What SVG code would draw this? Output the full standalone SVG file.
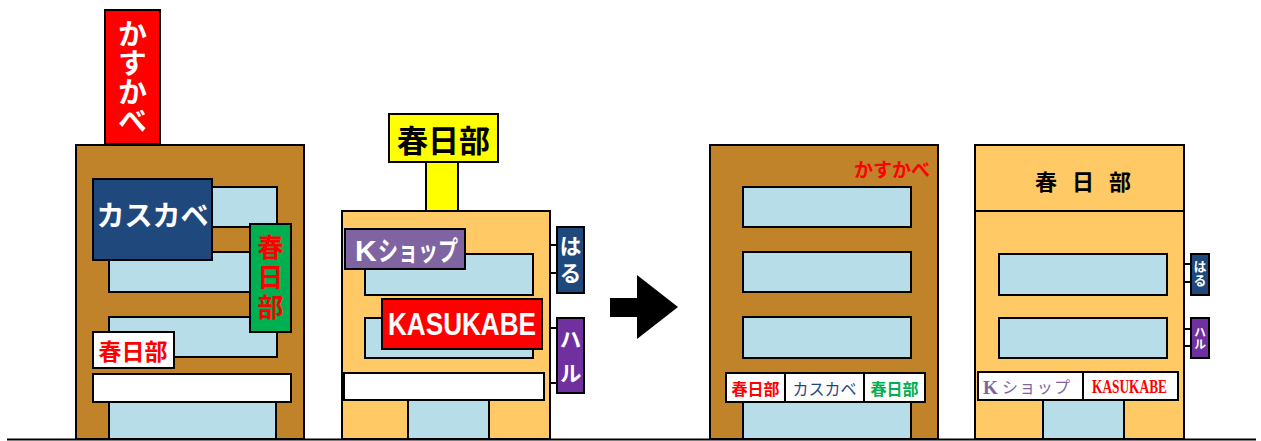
<svg xmlns="http://www.w3.org/2000/svg" width="1261" height="441" viewBox="0 0 1261 441">
  <style>
    .brown { fill: #C0832A; stroke: #000; stroke-width: 2; }
    .light { fill: #FFC965; stroke: #000; stroke-width: 2; }
    .win { fill: #B7DDE8; stroke: #000; stroke-width: 2; }
    .sign { stroke: #000; stroke-width: 2; }
    .wire { stroke: #000; stroke-width: 2; fill: none; }
    .jp { font-family: "Noto Sans CJK JP", "Noto Sans", sans-serif; font-weight: bold; text-anchor: middle; dominant-baseline: central; }
    .jpn { font-family: "Noto Sans CJK JP", "Noto Sans", sans-serif; font-weight: normal; text-anchor: middle; dominant-baseline: central; }
    .vert { font-family: "Noto Sans CJK JP", "Noto Sans", sans-serif; font-weight: bold; text-anchor: middle; writing-mode: vertical-rl; }
    .lat { font-family: "Liberation Sans", Arial, sans-serif; font-weight: bold; dominant-baseline: central; }
    .ser { font-family: "Liberation Serif", "Times New Roman", serif; dominant-baseline: central; }
  </style>

  <rect width="1261" height="441" fill="#fff"/>

  <!-- left building (before) -->
  <g id="building-left">
    <rect class="sign" x="105" y="10" width="55" height="134" fill="#FF0000"/>
    <text class="vert" fill="#fff" font-size="29" x="132.5" y="77">かすかべ</text>
    <rect class="brown" x="76" y="145" width="228" height="294"/>
    <rect class="win" x="109" y="187" width="168" height="40"/>
    <rect class="win" x="109" y="252" width="168" height="40"/>
    <rect class="win" x="109" y="317" width="168" height="40"/>
    <rect class="win" x="109" y="402" width="167" height="37"/>
    <rect class="sign" x="93" y="179" width="119" height="81" fill="#1F497D"/>
    <text class="jp" fill="#fff" font-size="28" x="152.5" y="214">カスカベ</text>
    <rect class="sign" x="250" y="224" width="41" height="108" fill="#00B050"/>
    <text class="vert" fill="#FF0000" font-size="26" letter-spacing="4" x="270.5" y="279">春日部</text>
    <rect class="sign" x="93" y="332" width="81" height="36" fill="#fff"/>
    <text class="jp" fill="#FF0000" font-size="23" x="133" y="350">春日部</text>
    <rect class="sign" x="93" y="374" width="198" height="28" fill="#fff"/>
  </g>

  <!-- middle building (before) -->
  <g id="building-middle">
    <rect class="sign" x="426" y="162" width="32" height="49" fill="#FFFF00"/>
    <rect class="sign" x="389" y="114" width="109" height="48" fill="#FFFF00"/>
    <text class="jp" fill="#000" font-size="31" x="443.5" y="138">春日部</text>
    <rect class="light" x="342" y="211" width="208" height="228"/>
    <rect class="win" x="365" y="254" width="168" height="41"/>
    <rect class="win" x="365" y="318" width="168" height="40"/>
    <rect class="sign" x="345" y="229" width="120" height="40" fill="#8064A2"/>
    <text class="lat" fill="#fff" font-size="30" x="355" y="250">K</text>
    <text class="jp" fill="#fff" font-size="27" x="418" y="249" textLength="80" lengthAdjust="spacingAndGlyphs">ショップ</text>
    <rect class="sign" x="382" y="299" width="160" height="50" fill="#FF0000"/>
    <text class="lat" fill="#fff" font-size="32" x="462" y="324" text-anchor="middle" textLength="148" lengthAdjust="spacingAndGlyphs">KASUKABE</text>
    <rect class="sign" x="344" y="373" width="200" height="27" fill="#fff"/>
    <rect class="win" x="408" y="400" width="81" height="39"/>
  </g>

  <g id="sign-haru-middle">
    <rect class="sign" x="557" y="227" width="27" height="66" fill="#1F497D"/>
    <text class="vert" fill="#fff" font-size="22" letter-spacing="5" x="570.5" y="262">はる</text>
  </g>

  <g id="sign-haru-kana-middle">
    <rect class="sign" x="557" y="318" width="27" height="75" fill="#7030A0"/>
    <text class="vert" fill="#fff" font-size="22" letter-spacing="12" x="570.5" y="362">ハル</text>
  </g>

  <!-- right-hand building (after) -->
  <g id="building-right-a">
    <rect class="brown" x="710" y="145" width="228" height="294"/>
    <text class="jp" fill="#FF0000" font-size="19" x="892" y="168">かすかべ</text>
    <rect class="win" x="743" y="187" width="168" height="40"/>
    <rect class="win" x="743" y="252" width="168" height="40"/>
    <rect class="win" x="743" y="317" width="168" height="41"/>
    <rect class="win" x="743" y="402" width="168" height="37"/>
    <rect class="sign" x="726" y="373" width="59" height="29" fill="#fff"/>
    <text class="jp" fill="#FF0000" font-size="16" x="755.5" y="388">春日部</text>
    <rect class="sign" x="785" y="373" width="79" height="29" fill="#fff"/>
    <text class="jpn" fill="#1F497D" font-size="16" x="824.5" y="388">カスカベ</text>
    <rect class="sign" x="864" y="373" width="61" height="29" fill="#fff"/>
    <text class="jp" fill="#00B050" font-size="16" x="894.5" y="388">春日部</text>
  </g>

  <g id="building-right-b">
    <rect class="light" x="975" y="145" width="209" height="294"/>
    <line class="wire" x1="975" y1="211" x2="1184" y2="211"/>
    <text class="jp" fill="#000" font-size="22">
      <tspan x="1046" y="180">春</tspan><tspan x="1083" y="180">日</tspan><tspan x="1120" y="180">部</tspan>
    </text>
    <rect class="win" x="999" y="254" width="168" height="41"/>
    <rect class="win" x="999" y="318" width="168" height="40"/>
    <rect class="sign" x="978" y="372" width="105" height="28" fill="#fff"/>
    <text class="ser" fill="#8064A2" font-size="19" font-weight="bold" x="983" y="387">K</text>
    <text class="jpn" fill="#8064A2" font-size="16" x="1036" y="386" textLength="68" lengthAdjust="spacing">ショップ</text>
    <rect class="sign" x="1083" y="372" width="95" height="28" fill="#fff"/>
    <text class="ser" fill="#FF0000" font-size="18" font-weight="bold" x="1129.5" y="387" text-anchor="middle" textLength="75" lengthAdjust="spacingAndGlyphs">KASUKABE</text>
    <rect class="win" x="1043" y="400" width="81" height="39"/>
  </g>

  <g id="sign-haru-right">
    <rect class="sign" x="1191" y="254" width="18" height="41" fill="#1F497D"/>
    <text class="vert" fill="#fff" font-size="13" letter-spacing="1" x="1200" y="274">はる</text>
  </g>

  <g id="sign-haru-kana-right">
    <rect class="sign" x="1191" y="318" width="18" height="40" fill="#7030A0"/>
    <text class="vert" fill="#fff" font-size="12" x="1200" y="338">ハル</text>
  </g>

  <!-- brackets holding the side signs, ground line and transition arrow -->
  <g id="connectors">
    <line class="wire" x1="550" y1="245" x2="557" y2="245"/>
    <line class="wire" x1="550" y1="273" x2="557" y2="273"/>
    <line class="wire" x1="550" y1="328" x2="557" y2="328"/>
    <line class="wire" x1="550" y1="383" x2="557" y2="383"/>
    <line class="wire" x1="1184" y1="264" x2="1191" y2="264"/>
    <line class="wire" x1="1184" y1="282" x2="1191" y2="282"/>
    <line class="wire" x1="1184" y1="329" x2="1191" y2="329"/>
    <line class="wire" x1="1184" y1="346" x2="1191" y2="346"/>
    <polygon points="610,298 637,298 637,275 678,307 637,339 637,317 610,317" fill="#000"/>
    <line x1="7" y1="439.5" x2="1256" y2="439.5" stroke="#000" stroke-width="2"/>
  </g>
</svg>
